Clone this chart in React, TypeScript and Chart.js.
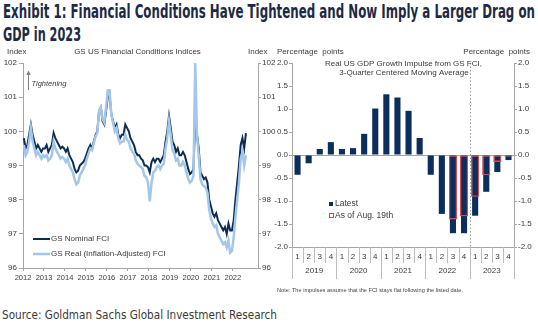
import React, { useEffect, useLayoutEffect, useRef } from "react";
import { Chart, registerables } from "chart.js";

Chart.register(...registerables);

const FONT = "'Liberation Sans', Arial, Helvetica, sans-serif";
const TEXT = "#3a3a3a";
const AXIS = "#a6a6a6";
const NAVY = "#0d2c55";
const LIGHT = "#a3c7e9";
const BAR = "#0b2e5c";
const RED = "#e0484d";

// ---- Left panel: GS US Financial Conditions Indices (monthly, Jan 2012 - Aug 2022)
const fciStartYear = 2012;
const nominalFci = [
  99.8, 99.5, 99.6, 99.9, 100.2, 99.9, 99.7, 99.5, 99.6, 99.5, 99.4, 99.5, // 2012
  99.5, 99.6, 99.4, 99.5, 99.6, 99.95, 99.8, 99.7, 99.6, 99.5, 99.55, 99.5, // 2013
  99.4, 99.5, 99.3, 99.2, 99.1, 98.9, 98.8, 98.85, 99.0, 99.05, 99.1, 99.2, // 2014
  99.35, 99.5, 99.6, 99.5, 99.7, 99.9, 100.0, 100.6, 100.7, 100.3, 100.2, 100.6, // 2015
  101.0, 101.1, 100.5, 100.3, 100.1, 100.2, 99.9, 99.8, 99.9, 99.9, 100.2, 100.1, // 2016
  100.0, 99.8, 99.7, 99.6, 99.4, 99.3, 99.3, 99.2, 99.15, 99.0, 99.0, 98.95, // 2017
  98.8, 99.1, 99.2, 99.1, 99.2, 99.2, 99.1, 99.2, 99.3, 99.7, 100.0, 100.45, // 2018
  100.1, 99.7, 99.6, 99.4, 99.5, 99.3, 99.3, 99.4, 99.3, 99.1, 98.9, 98.75, // 2019
  98.8, 98.9, 100.4, 99.9, 99.5, 98.8, 98.7, 98.6, 98.65, 98.5, 98.0, 97.8, // 2020
  97.6, 97.5, 97.6, 97.4, 97.3, 97.2, 97.1, 97.2, 97.0, 97.3, 97.1, 97.1, // 2021
  97.4, 98.0, 98.5, 99.0, 99.6, 99.8, 99.5, 99.95, // 2022
];
const realFci = [
  99.6, 99.3, 99.4, 99.7, 100.1, 99.7, 99.5, 99.3, 99.4, 99.3, 99.2, 99.3, // 2012
  99.25, 99.3, 99.15, 99.2, 99.3, 99.7, 99.5, 99.4, 99.3, 99.2, 99.25, 99.2, // 2013
  99.1, 99.2, 99.0, 98.9, 98.8, 98.6, 98.45, 98.5, 98.7, 98.8, 98.9, 99.0, // 2014
  99.2, 99.35, 99.5, 99.45, 99.65, 99.85, 99.95, 100.6, 100.7, 100.35, 100.25, 100.7, // 2015
  101.2, 101.2, 100.5, 100.25, 100.0, 100.1, 99.8, 99.65, 99.7, 99.7, 99.9, 99.75, // 2016
  99.7, 99.5, 99.4, 99.35, 99.15, 99.05, 99.0, 98.95, 98.9, 98.7, 98.65, 98.5, // 2017
  97.95, 98.5, 98.8, 98.85, 98.95, 99.0, 98.9, 99.0, 99.05, 99.5, 99.8, 100.3, // 2018
  99.9, 99.45, 99.35, 99.15, 99.2, 99.0, 99.0, 99.1, 99.0, 98.8, 98.6, 98.5, // 2019
  98.55, 98.7, 102.0, 99.9, 99.3, 98.6, 98.45, 98.4, 98.35, 98.2, 97.7, 97.45, // 2020
  97.3, 97.2, 97.25, 97.0, 96.9, 96.8, 96.7, 96.75, 96.6, 96.8, 96.45, 96.5, // 2021
  96.9, 97.5, 98.0, 98.5, 99.2, 99.4, 99.0, 99.3, // 2022
];
const fciYearTicks = [2012, 2013, 2014, 2015, 2016, 2017, 2018, 2019, 2020, 2021, 2022];

// ---- Right panel: Real US GDP growth impulse from GS FCI
const impulseYears = ["2019", "2020", "2021", "2022", "2023"];
const quarterLabels = ["1", "2", "3", "4"];
const latestImpulse = [
  -0.43, -0.18, 0.13, 0.28, // 2019
  0.13, 0.15, 0.46, 1.01, // 2020
  1.32, 1.25, 0.96, 0.37, // 2021
  -0.43, -1.28, -1.70, -1.70, // 2022
  -1.32, -0.80, -0.37, -0.11, // 2023
];
const aug19Impulse = [
  null, null, null, null,
  null, null, null, null,
  null, null, null, null,
  null, null, -1.40, -1.33,
  -0.91, -0.44, -0.15, -0.04,
];

function txt(ctx: CanvasRenderingContext2D, s: string, x: number, y: number, size: number, align: CanvasTextAlign = "left", color = TEXT, style = "") {
  ctx.save();
  ctx.font = `${style} ${size}px ${FONT}`;
  ctx.fillStyle = color;
  ctx.textAlign = align;
  ctx.textBaseline = "middle";
  ctx.fillText(s, x, y);
  ctx.restore();
}
function hline(ctx: CanvasRenderingContext2D, x1: number, x2: number, y: number, color: string, w: number) {
  ctx.save();
  ctx.strokeStyle = color;
  ctx.lineWidth = w;
  ctx.beginPath();
  ctx.moveTo(x1, y);
  ctx.lineTo(x2, y);
  ctx.stroke();
  ctx.restore();
}

const leftDecor = {
  id: "leftDecor",
  afterDraw(chart: any) {
    const ctx = chart.ctx as CanvasRenderingContext2D;
    txt(ctx, "Index", 7, 12, 8);
    txt(ctx, "GS US Financial Conditions Indices", 137.5, 12, 8, "center");
    txt(ctx, "Index", 248, 12, 8);
    ctx.save();
    ctx.strokeStyle = "#808080";
    ctx.fillStyle = "#808080";
    ctx.lineWidth = 1;
    ctx.beginPath();
    ctx.moveTo(28.5, 50);
    ctx.lineTo(28.5, 34);
    ctx.stroke();
    ctx.beginPath();
    ctx.moveTo(28.5, 30.5);
    ctx.lineTo(26.3, 35);
    ctx.lineTo(30.7, 35);
    ctx.closePath();
    ctx.fill();
    ctx.restore();
    txt(ctx, "Tightening", 31.5, 43.5, 7.5, "left", TEXT, "italic");
    hline(ctx, 33, 50, 199, NAVY, 2);
    txt(ctx, "GS Nominal FCI", 51, 199, 8);
    hline(ctx, 33, 50, 214, LIGHT, 2.5);
    txt(ctx, "GS Real (Inflation-Adjusted) FCI", 51, 214, 8);
  },
};

const rightDecor = {
  id: "rightDecor",
  beforeDatasetsDraw(chart: any) {
    const { ctx, chartArea: a, scales } = chart;
    const y0 = Math.round(scales.y.getPixelForValue(0)) + 0.5;
    hline(ctx, a.left, a.right, y0, AXIS, 1);
    const xd = Math.round(scales.x.getPixelForValue(15.5)) + 0.5;
    ctx.save();
    ctx.strokeStyle = "#9a9a9a";
    ctx.lineWidth = 1;
    ctx.setLineDash([1.5, 2]);
    ctx.beginPath();
    ctx.moveTo(xd, a.top);
    ctx.lineTo(xd, a.bottom);
    ctx.stroke();
    ctx.restore();
  },
  afterDraw(chart: any) {
    const { ctx, chartArea: a, scales } = chart;
    const xs = scales.x;
    ctx.save();
    ctx.strokeStyle = "#bdbdbd";
    ctx.lineWidth = 1;
    for (let k = 0; k <= latestImpulse.length; k++) {
      const xb = Math.round(xs.getPixelForValue(k - 0.5)) + 0.5;
      const len = k % 4 === 0 ? 32 : 16;
      ctx.beginPath();
      ctx.moveTo(xb, a.bottom);
      ctx.lineTo(xb, a.bottom + len);
      ctx.stroke();
    }
    ctx.restore();
    impulseYears.forEach((yr, g) => {
      txt(ctx, yr, xs.getPixelForValue(g * 4 + 1.5), 231, 8, "center");
    });
    txt(ctx, "Percentage  points", 17, 12, 8);
    txt(ctx, "Percentage  points", 270, 12, 8, "right");
    txt(ctx, "Real US GDP Growth Impulse from GS FCI,", 143.5, 24, 8, "center");
    txt(ctx, "3-Quarter Centered Moving Average", 144, 32.7, 8, "center");
    // legend
    ctx.save();
    ctx.fillStyle = BAR;
    ctx.fillRect(69, 162, 4, 4);
    ctx.fillStyle = "#fff";
    ctx.fillRect(69, 173, 4, 4);
    ctx.strokeStyle = RED;
    ctx.lineWidth = 1;
    ctx.strokeRect(69.5, 173.5, 4, 4);
    ctx.restore();
    txt(ctx, "Latest", 75, 164, 8.5);
    txt(ctx, "As of Aug. 19th", 75, 175.5, 8.5);
  },
};

function Fit({ text, width, style }: { text: string; width: number; style: React.CSSProperties }) {
  const r = useRef<HTMLSpanElement>(null);
  useLayoutEffect(() => {
    const el = r.current;
    if (!el) return;
    const apply = () => {
      el.style.transform = "none";
      const w = el.getBoundingClientRect().width;
      if (w > 0) el.style.transform = `scaleX(${width / w})`;
    };
    apply();
    (document as any).fonts?.ready?.then(apply);
  }, [text, width]);
  return (
    <span
      ref={r}
      style={{ position: "absolute", whiteSpace: "nowrap", display: "inline-block", transformOrigin: "0 0", ...style }}
    >
      {text}
    </span>
  );
}

export default function App() {
  const leftRef = useRef<HTMLCanvasElement>(null);
  const rightRef = useRef<HTMLCanvasElement>(null);

  useEffect(() => {
    const tickFont = { family: FONT, size: 8 };
    const nominalPoints = nominalFci.map((v, i) => ({ x: fciStartYear + i / 12 + 1 / 24, y: v }));
    const realPoints = realFci.map((v, i) => ({ x: fciStartYear + i / 12 + 1 / 24, y: v }));

    const left = new Chart(leftRef.current!, {
      type: "line",
      data: {
        datasets: [
          { label: "GS Real (Inflation-Adjusted) FCI", data: realPoints, borderColor: LIGHT, borderWidth: 2.5, pointRadius: 0, tension: 0, order: 0 },
          { label: "GS Nominal FCI", data: nominalPoints, borderColor: NAVY, borderWidth: 2, pointRadius: 0, tension: 0, order: 1 },
        ],
      },
      options: {
        responsive: false,
        animation: false,
        layout: { padding: { top: 23, left: 0, right: 0, bottom: 0 } },
        plugins: { legend: { display: false }, tooltip: { enabled: false } },
        scales: {
          x: {
            type: "linear",
            min: 2012,
            max: 2023.2,
            afterBuildTicks: (s: any) => {
              s.ticks = fciYearTicks.map((value) => ({ value }));
            },
            afterFit: (s: any) => {
              s.height = 22;
            },
            grid: { drawOnChartArea: false, tickLength: 3, color: AXIS },
            border: { color: AXIS },
            ticks: { font: { family: FONT, size: 7.5 }, color: TEXT, padding: 2, maxRotation: 0, autoSkip: false, callback: (v: any) => String(v) },
          },
          y: {
            position: "left",
            min: 96,
            max: 102,
            afterFit: (s: any) => {
              s.width = 23;
            },
            grid: { drawOnChartArea: false, tickLength: 4, color: AXIS },
            border: { color: AXIS },
            ticks: { stepSize: 1, font: tickFont, color: TEXT, padding: 2, callback: (v: any) => String(v) },
          },
          y2: {
            position: "right",
            min: 96,
            max: 102,
            afterFit: (s: any) => {
              s.width = 32;
            },
            grid: { drawOnChartArea: false, tickLength: 3, color: AXIS },
            border: { color: AXIS },
            ticks: { stepSize: 1, font: tickFont, color: TEXT, padding: 1, callback: (v: any) => String(v) },
          },
        },
      } as any,
      plugins: [leftDecor],
    });

    const labels = impulseYears.flatMap((y) => quarterLabels.map((q) => `${y} Q${q}`));
    const right = new Chart(rightRef.current!, {
      type: "bar",
      data: {
        labels,
        datasets: [
          {
            label: "As of Aug. 19th",
            data: aug19Impulse,
            backgroundColor: "rgba(0,0,0,0)",
            borderColor: RED,
            borderWidth: 1.3,
            borderSkipped: false,
            barPercentage: 0.74,
            categoryPercentage: 1,
            grouped: false,
            order: 0,
          },
          {
            label: "Latest",
            data: latestImpulse,
            backgroundColor: BAR,
            borderWidth: 0,
            barPercentage: 0.55,
            categoryPercentage: 1,
            grouped: false,
            order: 1,
          },
        ],
      } as any,
      options: {
        responsive: false,
        animation: false,
        layout: { padding: { top: 23, left: 0, right: 0, bottom: 0 } },
        plugins: { legend: { display: false }, tooltip: { enabled: false } },
        scales: {
          x: {
            afterFit: (s: any) => {
              s.height = 43;
            },
            grid: { display: false, drawTicks: false, tickLength: 0 },
            border: { display: true, color: AXIS },
            ticks: {
              font: tickFont,
              color: TEXT,
              padding: 5,
              maxRotation: 0,
              autoSkip: false,
              callback: (_v: any, i: number) => quarterLabels[i % 4],
            },
          },
          y: {
            position: "left",
            min: -2,
            max: 2,
            afterFit: (s: any) => {
              s.width = 32;
            },
            grid: { drawOnChartArea: false, tickLength: 3, color: AXIS },
            border: { color: AXIS },
            ticks: { stepSize: 0.5, font: tickFont, color: TEXT, padding: 1, callback: (v: any) => Number(v).toFixed(1) },
          },
          y2: {
            position: "right",
            min: -2,
            max: 2,
            afterFit: (s: any) => {
              s.width = 24;
            },
            grid: { drawOnChartArea: false, tickLength: 3, color: AXIS },
            border: { color: AXIS },
            ticks: { stepSize: 0.5, font: tickFont, color: TEXT, padding: 1, callback: (v: any) => Number(v).toFixed(1) },
          },
        },
      } as any,
      plugins: [rightDecor],
    });

    return () => {
      left.destroy();
      right.destroy();
    };
  }, []);

  const titleStyle: React.CSSProperties = {
    fontFamily: "'Liberation Sans Narrow', 'DejaVu Sans Condensed', Roboto, sans-serif",
    fontWeight: 700,
    fontSize: 20,
    lineHeight: "20px",
    color: "#1d2a45",
    left: 3,
  };

  return (
    <div style={{ position: "fixed", left: 0, top: 0, width: 538, height: 323, background: "#fff", overflow: "hidden" }}>
      <Fit
        text="Exhibit 1: Financial Conditions Have Tightened and Now Imply a Larger Drag on"
        width={532}
        style={{ ...titleStyle, top: 1 }}
      />
      <Fit text="GDP in 2023" width={78} style={{ ...titleStyle, top: 24 }} />
      <canvas ref={leftRef} width={290} height={250} style={{ position: "absolute", left: 0, top: 40, width: 290, height: 250 }} />
      <canvas ref={rightRef} width={278} height={250} style={{ position: "absolute", left: 260, top: 40, width: 278, height: 250 }} />
      <Fit
        text="Note: The impulses assume that the FCI stays flat following the listed date."
        width={186}
        style={{ fontFamily: FONT, fontSize: 5.5, lineHeight: "6px", color: "#444", left: 277, top: 287 }}
      />
      <Fit
        text="Source: Goldman Sachs Global Investment Research"
        width={275}
        style={{ fontFamily: "'Liberation Sans Narrow', 'DejaVu Sans Condensed', Roboto, sans-serif", fontSize: 13, lineHeight: "13px", color: "#3a3a3a", left: 2, top: 308 }}
      />
    </div>
  );
}
